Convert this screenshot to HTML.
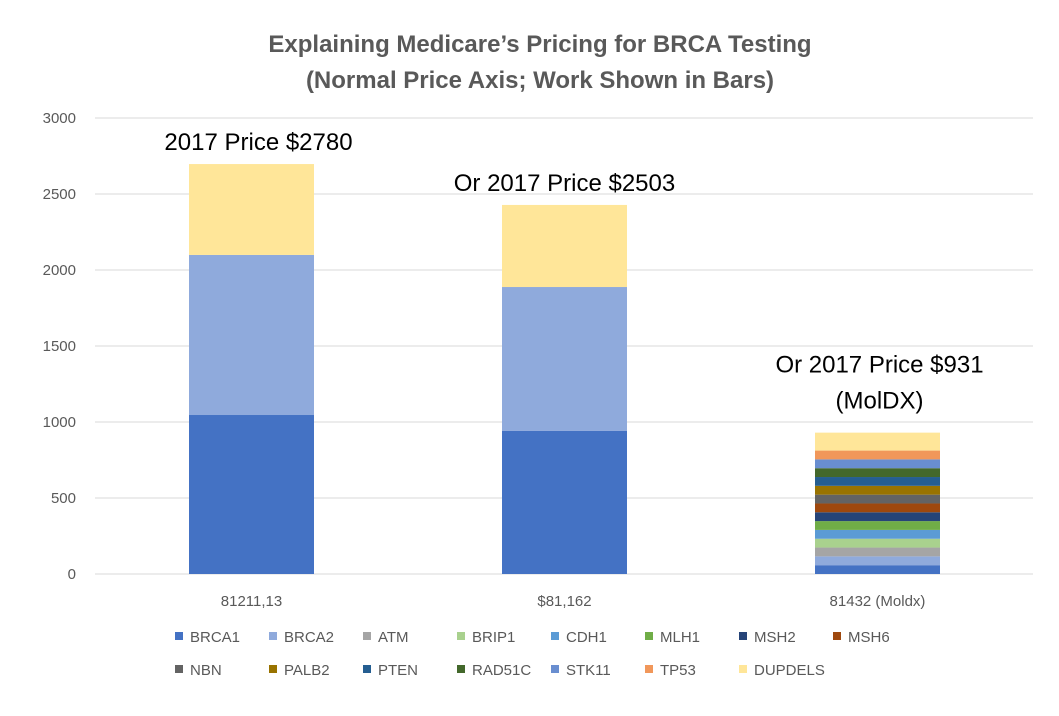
<!DOCTYPE html>
<html><head><meta charset="utf-8"><style>
body{margin:0;background:#fff;}
svg text{font-family:"Liberation Sans",sans-serif;}
</style></head><body>
<svg id="chart" width="1059" height="711" xmlns="http://www.w3.org/2000/svg">
<rect width="1059" height="711" fill="#fff"/>
<text x="540" y="52" text-anchor="middle" font-size="24" font-weight="bold" fill="#595959">Explaining Medicare’s Pricing for BRCA Testing</text>
<text x="540" y="88" text-anchor="middle" font-size="24" font-weight="bold" fill="#595959">(Normal Price Axis; Work Shown in Bars)</text>
<g id="grid"></g><g id="bars"></g><g id="labels"></g><g id="legend"></g>
</svg>
<script>
const categories=["81211,13","$81,162","81432 (Moldx)"];
const seriesNames=["BRCA1","BRCA2","ATM","BRIP1","CDH1","MLH1","MSH2","MSH6","NBN","PALB2","PTEN","RAD51C","STK11","TP53","DUPDELS"];
const seriesColors=["#4472c4","#8faadc","#a5a5a5","#a9d18e","#5b9bd5","#70ad47","#264478","#9e480e","#636363","#997300","#255e91","#43682b","#698ed0","#f1975a","#ffe699"];
const bar1=[1046,1053,0,0,0,0,0,0,0,0,0,0,0,0,598];
const bar2=[941,947,0,0,0,0,0,0,0,0,0,0,0,0,540];
const bar3=[58,58,58,58,58,58,58,58,58,58,58,58,58,58,118];
const yTicks=[0,500,1000,1500,2000,2500,3000];
const annotations=[["2017 Price $2780"],["Or 2017 Price $2503"],["Or 2017 Price $931","(MolDX)"]];
const values=[bar1,bar2,bar3];
const NS="http://www.w3.org/2000/svg";
function y(v){return 574-v*456/3000;}
function xc(i){return 251.5+i*313;}
function mk(t,a,p){const e=document.createElementNS(NS,t);for(const k in a)e.setAttribute(k,a[k]);p.appendChild(e);return e;}
const grid=document.getElementById('grid');
yTicks.forEach(t=>{
  const l=mk('line',{x1:95,x2:1033,y1:y(t),y2:y(t),stroke:'#d9d9d9','stroke-width':1},grid);
  
  
  const tx=mk('text',{x:76,y:y(t)+5,'text-anchor':'end','font-size':15,fill:'#595959'},grid);
  tx.textContent=t;
  
  
});
const bars=document.getElementById('bars');const labels=document.getElementById('labels');
values.forEach((vals,i)=>{
  let acc=0;
  vals.forEach((v,s)=>{
    if(v<=0)return;
    const r=mk('rect',{x:xc(i)-62.5,width:125,y:y(acc+v),height:y(acc)-y(acc+v),fill:seriesColors[s]},bars);
    
    
    acc+=v;
  });
  const c=mk('text',{x:xc(i),y:606,'text-anchor':'middle','font-size':15,fill:'#595959'},labels);
  c.textContent=categories[i];
  
  
  const lines=annotations[i];
  const gap=lines.length>1?24:14;
  lines.forEach((ln,k)=>{
    const a=mk('text',{x:xc(i)+(i===0?7:i===1?0:2),y:y(acc)-gap-(lines.length-1-k)*36,'text-anchor':'middle','font-size':24,fill:'#000'},labels);
    a.textContent=ln;
    
    
  });
});
const leg=document.getElementById('legend');
seriesNames.forEach((n,s)=>{
  const row=s<8?0:1,col=s<8?s:s-8;
  const lx=175+col*94,ly=row?669:636;
  const r=mk('rect',{x:lx,y:ly-4,width:8,height:8,fill:seriesColors[s]},leg);
  
  
  const t=mk('text',{x:lx+15,y:ly+6,'font-size':15,fill:'#595959'},leg);
  t.textContent=n;
  
  
});
</script>
</body></html>
